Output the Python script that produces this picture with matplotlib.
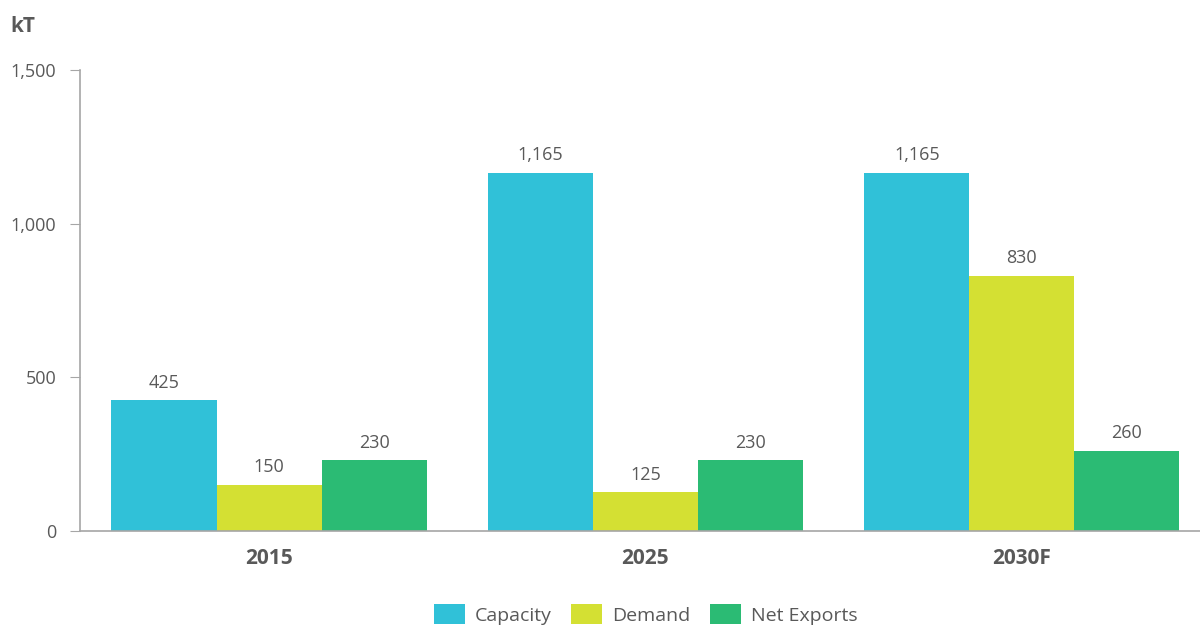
import matplotlib.pyplot as plt
import numpy as np
from matplotlib.ticker import FuncFormatter

# kapasitas, permintaan dan ekspor bersih (kT)
years = ["2015", "2025", "2030F"]
capacity = [425, 1165, 1165]
demand = [150, 125, 830]
net_exports = [230, 230, 260]

series = [
    ("Capacity", capacity, "#30C1D8"),
    ("Demand", demand, "#D4E033"),
    ("Net Exports", net_exports, "#2BBB74"),
]

plt.rcParams["font.family"] = ["Open Sans", "DejaVu Sans"]
text_color = "#595959"
axis_color = "#A6A6A6"

fig = plt.figure(figsize=(12, 6.26), dpi=100)
ax = fig.add_axes([0.0667, 0.152, 0.9333, 0.736])

x = np.arange(len(years))
width = 0.279
for i, (name, vals, color) in enumerate(series):
    pos = x + (i - 1) * width
    ax.bar(pos, vals, width, color=color, label=name)
    for px, v in zip(pos, vals):
        ax.text(px, v + 28, f"{v:,}", ha="center", va="bottom",
                fontsize=13, color=text_color)

ax.set_xlim(-0.502, 2.473)
ax.set_ylim(0, 1500)
ax.set_yticks([0, 500, 1000, 1500])
ax.yaxis.set_major_formatter(FuncFormatter(lambda v, _: f"{v:,.0f}"))
ax.set_xticks(x)
ax.set_xticklabels(years, fontsize=15, fontweight="bold", color=text_color)
ax.tick_params(axis="x", length=0, pad=12)
ax.tick_params(axis="y", length=7, color=axis_color, labelsize=13,
               labelcolor=text_color, pad=10)

for side in ["top", "right"]:
    ax.spines[side].set_visible(False)
for side in ["left", "bottom"]:
    ax.spines[side].set_color(axis_color)
    ax.spines[side].set_linewidth(1.2)

fig.text(0.009, 0.958, "kT", fontsize=15, fontweight="bold",
         color=text_color, va="center")

fig.legend(loc="center", bbox_to_anchor=(0.538, 0.018), ncol=3,
           frameon=False, fontsize=14, labelcolor=text_color,
           handlelength=1.6, handleheight=1.2, handletextpad=0.5,
           columnspacing=1.0)

fig.savefig("out.png", dpi=100)
